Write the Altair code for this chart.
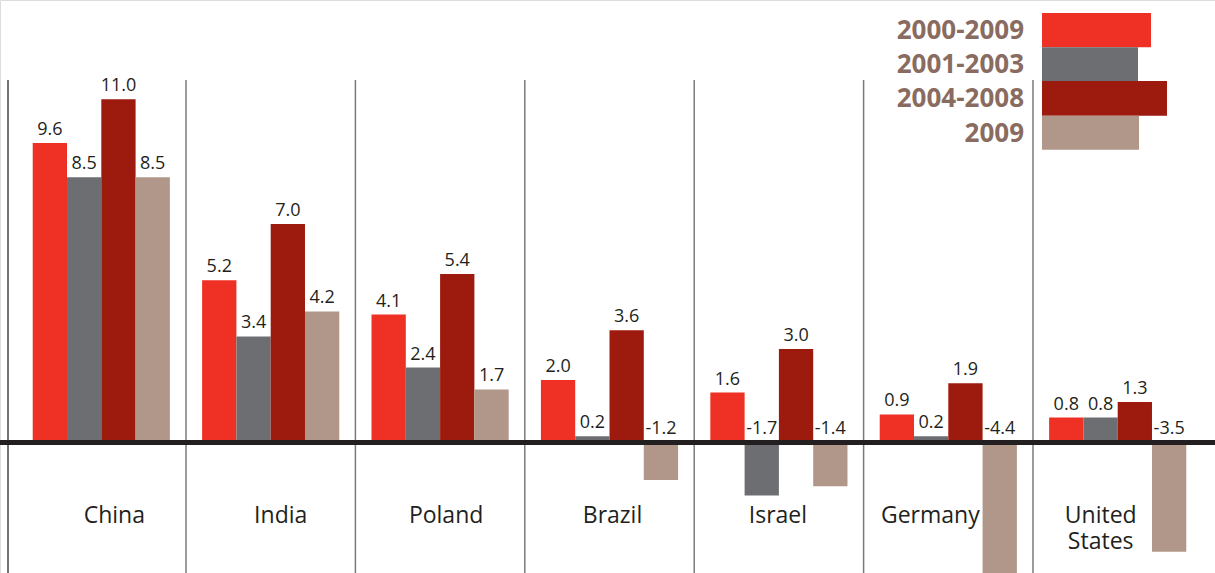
import altair as alt
import pandas as pd

COUNTRIES = ["China", "India", "Poland", "Brazil", "Israel", "Germany", "United States"]
SERIES = ["2000-2009", "2001-2003", "2004-2008", "2009"]
V_2000_2009 = [9.6, 5.2, 4.1, 2.0, 1.6, 0.9, 0.8]
V_2001_2003 = [8.5, 3.4, 2.4, 0.2, -1.7, 0.2, 0.8]
V_2004_2008 = [11.0, 7.0, 5.4, 3.6, 3.0, 1.9, 1.3]
V_2009 = [8.5, 4.2, 1.7, -1.2, -1.4, -4.4, -3.5]
COLORS = ["#ee3124", "#6d6e71", "#9d1a0e", "#b09789"]

# styling constants (label nudges and legend geometry)
LABEL_DX = {"China": 13, "India": 10, "Poland": 6, "Brazil": 3, "Israel": -1,
            "Germany": -18, "United States": -17}
LEGEND_TOPS = [13, 47.3, 81, 115.7]
LEGEND_BOTTOMS = [47.3, 81, 115.7, 149.7]
LEGEND_RIGHTS = [1151, 1138, 1167, 1139]

rows = []
for s, vals in zip(SERIES, [V_2000_2009, V_2001_2003, V_2004_2008, V_2009]):
    for c, v in zip(COUNTRIES, vals):
        rows.append({"country": c, "series": s, "value": v, "txt": f"{v:.1f}"})
df = pd.DataFrame(rows)

x_enc = alt.X("country:N", sort=COUNTRIES, axis=None,
              scale=alt.Scale(range=[16.6, 1202.4], paddingInner=0, paddingOuter=0))
xo_enc = alt.XOffset("series:N", sort=SERIES,
                     scale=alt.Scale(paddingInner=0, paddingOuter=0.47))
y_scale = alt.Scale(domain=[-4.183, 14.183], nice=False, zero=False)
color_enc = alt.Color("series:N", scale=alt.Scale(domain=SERIES, range=COLORS), legend=None)

base = alt.Chart(df)

seps = alt.Chart(pd.DataFrame({"country": COUNTRIES[1:]})).mark_rule(
    color="#7a7a7a", strokeWidth=1.5
).encode(
    x=alt.X("country:N", sort=COUNTRIES, axis=None, bandPosition=0,
            scale=alt.Scale(range=[16.6, 1202.4], paddingInner=0, paddingOuter=0)),
    y=alt.value(80), y2=alt.value(573)
)
left_border = alt.Chart(pd.DataFrame({"k": [0]})).mark_rule(
    color="#444444", strokeWidth=1.5
).encode(x=alt.value(8), y=alt.value(80), y2=alt.value(573))

bars = base.mark_bar(clip=True).encode(
    x=x_enc, xOffset=xo_enc,
    y=alt.Y("value:Q", scale=y_scale, axis=None),
    y2=alt.datum(0),
    color=color_enc,
)

baseline = alt.Chart(pd.DataFrame({"k": [0]})).mark_rule(
    color="#231f20", strokeWidth=5
).encode(y=alt.datum(0, scale=None) if False else alt.Y("k:Q", scale=y_scale, axis=None),
         x=alt.value(0), x2=alt.value(1215))

vlabels = base.transform_calculate(ly="max(datum.value, 0)").mark_text(
    baseline="alphabetic", dy=-8, font="Open Sans", fontSize=18, color="#231f20"
).encode(
    x=x_enc, xOffset=xo_enc,
    y=alt.Y("ly:Q", scale=y_scale, axis=None),
    text="txt:N",
)

clabel_layers = []
for c in COUNTRIES:
    cdf = pd.DataFrame({"country": [c], "label": [c.replace(" ", "\n")]})
    clabel_layers.append(
        alt.Chart(cdf).mark_text(
            lineBreak="\n", align="center", baseline="alphabetic", dx=LABEL_DX[c],
            font="Open Sans", fontSize=23, lineHeight=26, color="#231f20"
        ).encode(x=x_enc, y=alt.value(523), text="label:N")
    )

legend_layers = []
for s, col, t, b, r in zip(SERIES, COLORS, LEGEND_TOPS, LEGEND_BOTTOMS, LEGEND_RIGHTS):
    ldf = pd.DataFrame({"series": [s]})
    legend_layers.append(
        alt.Chart(ldf).mark_rect(color=col).encode(
            x=alt.value(1042), x2=alt.value(r), y=alt.value(t), y2=alt.value(b)
        )
    )
    legend_layers.append(
        alt.Chart(ldf).mark_text(
            align="right", baseline="middle", font="Open Sans", fontWeight="bold",
            fontSize=26, color="#8a6b5f"
        ).encode(x=alt.value(1024), y=alt.value((t + b) / 2 + 1), text="series:N")
    )

chart = alt.layer(
    seps, left_border, bars, baseline, vlabels, *clabel_layers, *legend_layers
).properties(
    width=1215, height=573, padding=0, autosize=alt.AutoSizeParams(type="none")
).configure_view(stroke=None).configure(background="white")

chart.save("out.html", embed_options={"renderer": "svg", "actions": False})
